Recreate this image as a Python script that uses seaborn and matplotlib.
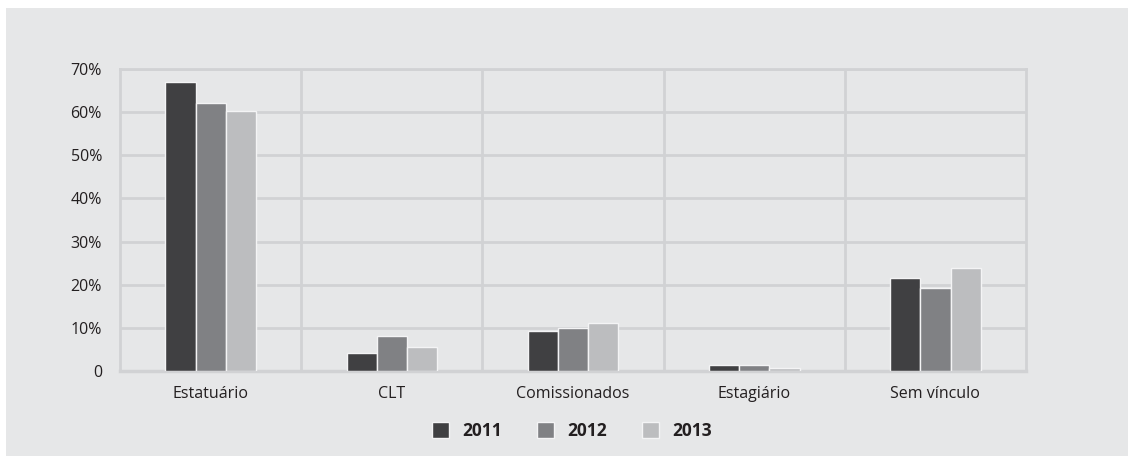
import matplotlib
matplotlib.use("Agg")
import matplotlib.pyplot as plt
from matplotlib.patches import Rectangle
import pandas as pd
import seaborn as sns

# data (percent)
categories = ["Estatuário", "CLT", "Comissionados", "Estagiário", "Sem vínculo"]
years = ["2011", "2012", "2013"]
vals_2011 = [67.0, 4.2, 9.3, 1.5, 21.6]
vals_2012 = [62.2, 8.1, 10.0, 1.5, 19.3]
vals_2013 = [60.3, 5.6, 11.1, 0.7, 23.9]
colors = ["#404042", "#808184", "#bcbdbf"]
y_ticks = [0, 10, 20, 30, 40, 50, 60, 70]

df = pd.DataFrame({
    "categoria": categories * 3,
    "ano": [y for y in years for _ in categories],
    "valor": vals_2011 + vals_2012 + vals_2013,
})

sns.set_style("white")
plt.rcParams["font.family"] = ["Open Sans", "DejaVu Sans"]

bg = "#e6e7e8"
grid_c = "#d1d2d4"
text_c = "#231f20"

fig = plt.figure(figsize=(11.28, 4.58), dpi=100)
fig.patch.set_facecolor("white")
# gray panel behind the chart
fig.patches.append(Rectangle((6 / 1128, 2 / 458), 1 - 6 / 1128, 1 - 10 / 458,
                             transform=fig.transFigure, facecolor=bg,
                             edgecolor="none", zorder=-10))

ax = fig.add_axes([120 / 1128, 1 - 371 / 458, (1026 - 120) / 1128, (371 - 69) / 458])
ax.set_facecolor(bg)

sns.barplot(data=df, x="categoria", y="valor", hue="ano", palette=colors,
            width=0.5, edgecolor="#f4f4f5", linewidth=1.0, saturation=1, ax=ax,
            legend=True, zorder=3)

ax.set_xlim(-0.5, 4.5)
ax.set_ylim(0, 70)
ax.set_yticks(y_ticks)
ax.set_yticklabels(["0" if t == 0 else f"{t}%" for t in y_ticks])
for t in y_ticks[1:]:
    ax.axhline(t, color=grid_c, lw=2, zorder=1)
for x in [0.5, 1.5, 2.5, 3.5]:
    ax.axvline(x, color=grid_c, lw=2, zorder=1)
for s in ax.spines.values():
    s.set_color(grid_c)
    s.set_linewidth(2)
ax.spines["bottom"].set_linewidth(2.5)

ax.tick_params(axis="both", length=0, labelsize=11.5, labelcolor=text_c)
ax.tick_params(axis="y", pad=13)
ax.tick_params(axis="x", pad=11)
ax.set_xlabel("")
ax.set_ylabel("")

handles, labels = ax.get_legend_handles_labels()
ax.get_legend().remove()
leg = fig.legend(handles, labels, loc="center", bbox_to_anchor=(0.507, 1 - 431 / 458),
                 ncol=3, frameon=False, handlelength=1.0, handleheight=1.0,
                 handletextpad=0.75, columnspacing=2.0,
                 prop={"weight": "bold", "size": 12.5})
for t in leg.get_texts():
    t.set_color(text_c)

fig.savefig("out.png", dpi=100, facecolor="white")
